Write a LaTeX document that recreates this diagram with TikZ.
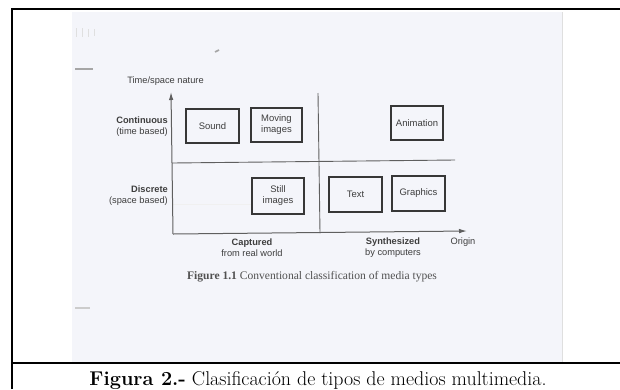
\documentclass[tikz,border=0pt]{standalone}
\usepackage{fontspec}
\setsansfont{Liberation Sans}
\newfontfamily\bookfont{Liberation Serif}
\usepackage{tikz}
\definecolor{scanbg}{RGB}{244,245,250}
\definecolor{ink}{RGB}{62,62,62}
\definecolor{boxink}{RGB}{55,55,55}
\definecolor{axisink}{RGB}{95,95,95}
\usetikzlibrary{arrows.meta}
\tikzset{
    mediabox/.style={draw=boxink, line width=1.5bp, inner sep=0pt, align=center,
        font=\sffamily\fontsize{9.5}{11}\selectfont, text=ink},
    axislabel/.style={inner sep=0pt, font=\sffamily\fontsize{9.3}{11}\selectfont, text=ink},
    axisline/.style={draw=axisink, line width=1bp},
    scanmark/.style={draw=gray!70, line width=1.2bp}
}

\begin{document}
\begin{tikzpicture}[x=1bp, y=-1bp]
    \useasboundingbox (0,0) rectangle (620,389);
    % scanned book page
    \fill[scanbg] (72,12) rectangle (563,362);
    \draw[gray!25, line width=0.8bp] (562.5,12) -- (562.5,362);
    \draw[scanmark] (75,69) -- (93,69);
    \draw[scanmark, gray!40] (75,308) -- (90,308);
    \draw[scanmark, line width=1.6bp] (215,52) -- (219,50);
    \draw[gray!25, line width=1bp] (76,28) -- (76,37) (82,28) -- (82,37) (88,29) -- (88,37) (94,29) -- (94,36);
    \draw[gray!12, line width=0.8bp] (173,204) -- (252,204);
    % axes
    \coordinate (o)    at (173,234);
    \coordinate (ytop) at (171,92);
    \coordinate (xend) at (467,231);
    \coordinate (hl)   at (172,163);
    \coordinate (hr)   at (455,160);
    \coordinate (vt)   at (318,93);
    \coordinate (vb)   at (320,233);
    \draw[axisline, -{Latex[length=8bp,width=4.5bp]}] (o) -- (ytop);
    \draw[axisline, -{Latex[length=8bp,width=4.5bp]}] (o) -- (xend);
    \draw[axisline, line width=0.9bp] (hl) -- (hr);
    \draw[axisline, line width=0.9bp] (vt) -- (vb);
    % media types
    \node[mediabox, minimum width=53bp, minimum height=34bp] (sound)    at (212.5,126)   {Sound};
    \node[mediabox, minimum width=51bp, minimum height=34bp] (moving)   at (276.5,125)   {Moving\\images};
    \node[mediabox, minimum width=52bp, minimum height=36bp] (still)    at (278,196)     {Still\\images};
    \node[mediabox, minimum width=52bp, minimum height=34bp] (anim)     at (417,123)     {Animation};
    \node[mediabox, minimum width=53bp, minimum height=35bp] (text)     at (355.5,194.5) {Text};
    \node[mediabox, minimum width=53bp, minimum height=35bp] (graphics) at (418.5,193.5) {Graphics};
    % axis labels
    \node[axislabel]                          (tsnat) at (165.5,81) {Time/space nature};
    \node[axislabel, anchor=east, align=right] (cont)  at (168,127)  {\textbf{Continuous}\\(time based)};
    \node[axislabel, anchor=east, align=right] (disc)  at (168,196)  {\textbf{Discrete}\\(space based)};
    \node[axislabel, align=center]            (capt)  at (252,248)  {\textbf{Captured}\\from real world};
    \node[axislabel, align=center]            (synth) at (393,248)  {\textbf{Synthesized}\\by computers};
    \node[axislabel]                          (orig)  at (463,242)  {Origin};
    \node[inner sep=0pt, text=ink!90, font=\bookfont\fontsize{11.6}{13}\selectfont]
        (fig11) at (312,277) {\textbf{Figure 1.1} Conventional classification of media types};
    % frame and caption
    \draw[line width=2bp] (12,389) -- (12,9.3) -- (620,9.3);
    \draw[line width=2bp] (12,363) -- (620,363);
    \node[inner sep=0pt, anchor=base, font=\fontsize{20}{24}\selectfont]
        (caption) at (318,385) {\textbf{Figura 2.-} Clasificación de tipos de medios multimedia.};
\end{tikzpicture}
\end{document}
